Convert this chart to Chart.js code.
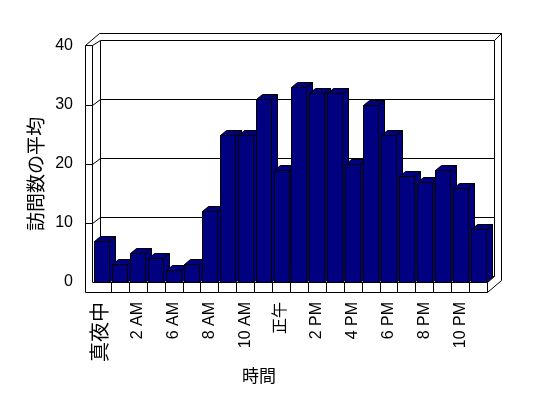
<!DOCTYPE html>
<html>
<head>
<meta charset="utf-8">
<script src="https://cdn.jsdelivr.net/npm/chart.js@4/dist/chart.umd.min.js"></script>
<style>html,body{margin:0;padding:0;background:#fff;}canvas{display:block;}</style>
</head>
<body>
<canvas id="c" width="548" height="398"></canvas>
<script>
// ---- data ----
const categories = ['真夜中','1 AM','2 AM','3 AM','6 AM','7 AM','8 AM','9 AM','10 AM','11 AM','正午','1 PM','2 PM','3 PM','4 PM','5 PM','6 PM','7 PM','8 PM','9 PM','10 PM','11 PM'];
const visits = [7,3,5,4,2,3,12,25,25,31,19,33,32,32,20,30,25,18,17,19,16,9];
const yTicks = [0,10,20,30,40];
const yTitle = '訪問数の平均';
const xTitle = '時間';

const FONT = "'Liberation Sans', Arial, 'Noto Sans CJK JP', sans-serif";
const CJK = "'Noto Sans CJK JP', sans-serif";

function px(v){ return Math.round(v) + 0.5; }
function poly(ctx, pts, fill){
  ctx.beginPath();
  ctx.moveTo(pts[0][0], pts[0][1]);
  for (let i = 1; i < pts.length; i++) ctx.lineTo(pts[i][0], pts[i][1]);
  ctx.closePath();
  if (fill) { ctx.fillStyle = fill; ctx.fill(); }
  ctx.stroke();
}
function line(ctx, pts){
  ctx.beginPath();
  ctx.moveTo(pts[0][0], pts[0][1]);
  for (let i = 1; i < pts.length; i++) ctx.lineTo(pts[i][0], pts[i][1]);
  ctx.stroke();
}

const threeD = {
  id: 'threeD',
  beforeDatasetsDraw(chart){
    const ctx = chart.ctx, a = chart.chartArea, x = chart.scales.x, y = chart.scales.y;
    const dx = 7, dy = -6, th = 8, fh = 10;
    const L = px(a.left), R = px(a.right);
    const B = px(y.getPixelForValue(yTicks[0]));
    const T = px(y.getPixelForValue(yTicks[yTicks.length - 1]));
    ctx.save();
    ctx.strokeStyle = '#000';
    ctx.lineWidth = 1;
    // outer outline
    poly(ctx, [[L - th, B + fh], [L - th, T - 1], [L - th + 2*dx, T + 2*dy - 1], [R + 2*dx, T + 2*dy - 1], [R + 2*dx, B + fh + 2*dy], [R, B + fh]], '#fff');
    // left wall front / top
    line(ctx, [[L - th, T - 1], [L - 1, T - 1], [L + dx, T + dy]]);
    line(ctx, [[L - 1, T - 1], [L - 1, B]]);
    // back wall inner face
    line(ctx, [[L + dx, B + dy], [L + dx, T + dy], [R + dx, T + dy], [R + dx, B + dy]]);
    line(ctx, [[R + dx, T + dy], [R + 2*dx, T + 2*dy - 1]]);
    line(ctx, [[L + dx, B + dy], [R + dx, B + dy]]);
    // gridlines
    yTicks.forEach(v => {
      if (v === yTicks[0] || v === yTicks[yTicks.length - 1]) return;
      const py = px(y.getPixelForValue(v));
      line(ctx, [[L - th, py], [L - 1, py], [L + dx, py + dy], [R + dx, py + dy]]);
    });
    // floor
    line(ctx, [[L - 1, B], [R, B], [R + dx, B + dy]]);
    line(ctx, [[R, B], [R, B + fh]]);
    for (let i = 1; i < categories.length; i++) {
      const bx = px((x.getPixelForTick(i - 1) + x.getPixelForTick(i)) / 2);
      line(ctx, [[bx, B], [bx, B + fh]]);
    }
    // bars, drawn left to right with depth faces
    const bdx = 6, bdy = -5;
    const meta = chart.getDatasetMeta(0);
    const color = chart.data.datasets[0].backgroundColor;
    meta.data.forEach(el => {
      const p = el.getProps(['x', 'y', 'base', 'width'], true);
      const x0 = px(p.x - p.width / 2), x1 = px(p.x + p.width / 2);
      const yt = px(p.y), yb = px(p.base);
      poly(ctx, [[x1, yt], [x1 + bdx, yt + bdy], [x1 + bdx, yb + bdy], [x1, yb]], color);
      poly(ctx, [[x0, yt], [x0 + bdx, yt + bdy], [x1 + bdx, yt + bdy], [x1, yt]], color);
      poly(ctx, [[x0, yt], [x1, yt], [x1, yb], [x0, yb]], color);
    });
    ctx.restore();
    return false;
  },
  afterDraw(chart){
    const ctx = chart.ctx;
    ctx.save();
    ctx.fillStyle = '#000';
    ctx.textAlign = 'center';
    ctx.textBaseline = 'middle';
    ctx.font = "19px " + CJK;
    ctx.translate(36, 174);
    ctx.rotate(-Math.PI / 2);
    ctx.fillText(yTitle, 0, 0);
    ctx.restore();
    ctx.save();
    ctx.fillStyle = '#000';
    ctx.textAlign = 'center';
    ctx.textBaseline = 'middle';
    ctx.font = "17px " + CJK;
    ctx.fillText(xTitle, 259, 376);
    ctx.restore();
  }
};

new Chart(document.getElementById('c'), {
  type: 'bar',
  data: {
    labels: categories,
    datasets: [{
      label: yTitle,
      data: visits,
      backgroundColor: '#000080',
      borderColor: '#000',
      borderWidth: 1,
      barPercentage: 0.84,
      categoryPercentage: 1
    }]
  },
  options: {
    responsive: false,
    animation: false,
    devicePixelRatio: 1,
    layout: { padding: { top: 46, right: 61, left: 0, bottom: 0 } },
    plugins: { legend: { display: false }, tooltip: { enabled: false } },
    scales: {
      x: {
        grid: { display: false, drawTicks: false },
        border: { display: false },
        ticks: {
          autoSkip: false,
          minRotation: 90,
          maxRotation: 90,
          padding: 20,
          color: '#000',
          font: c => ({ family: FONT, size: categories[c.index] === '真夜中' ? 20 : 16 }),
          callback: (v, i) => (i % 2 === 0 ? categories[i] : '')
        },
        afterFit: s => { s.height = 116; }
      },
      y: {
        min: yTicks[0],
        max: yTicks[yTicks.length - 1],
        grid: { display: false, drawTicks: false },
        border: { display: false },
        ticks: { stepSize: 10, padding: 20, color: '#000', font: { family: FONT, size: 16 } },
        afterFit: s => { s.width = 93; }
      }
    }
  },
  plugins: [threeD]
});
</script>
</body>
</html>
